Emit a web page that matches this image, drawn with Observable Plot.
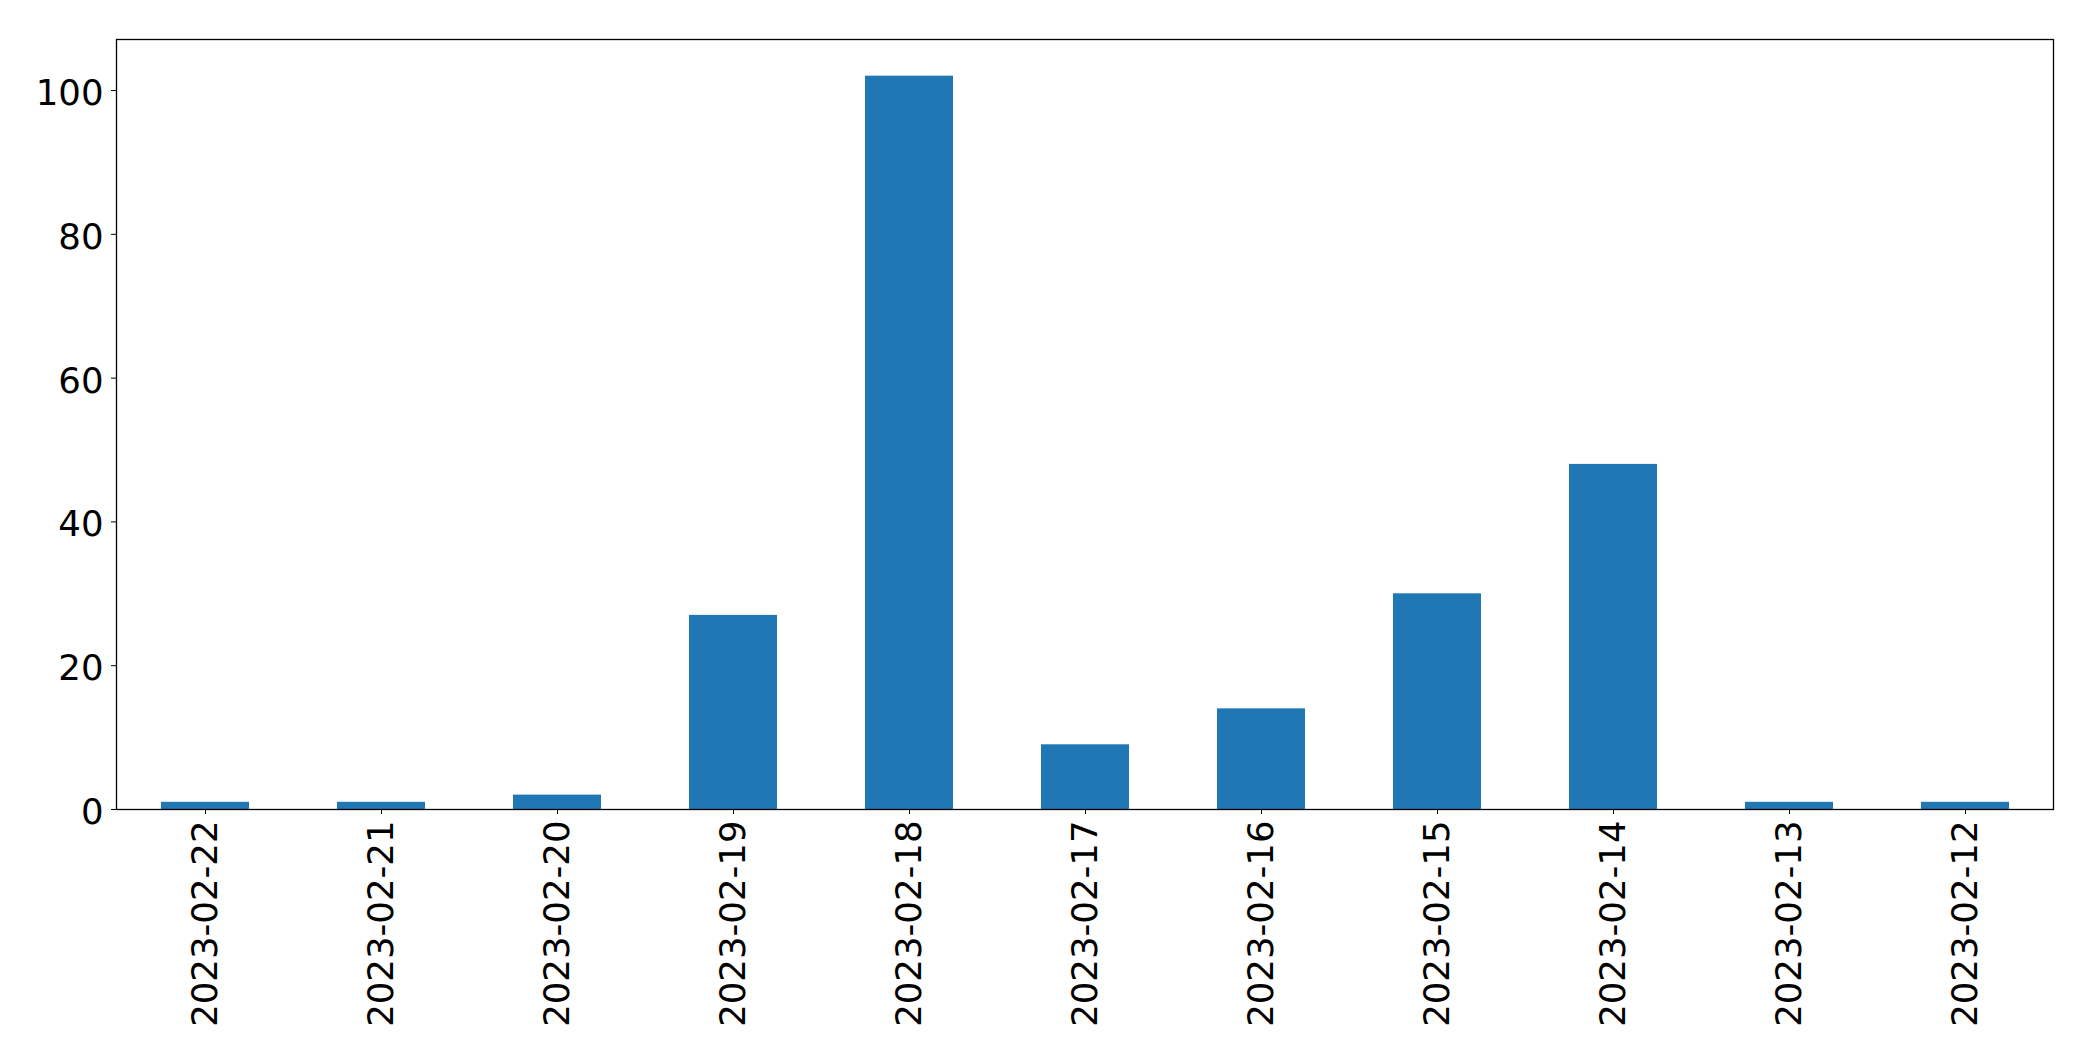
<!DOCTYPE html>
<html>
<head>
<meta charset="utf-8">
<script src="https://cdn.jsdelivr.net/npm/d3@7"></script>
<script src="https://cdn.jsdelivr.net/npm/@observablehq/plot@0.6"></script>
<style>
  html, body { margin: 0; padding: 0; background: #fff; }
  #chart svg { display: block; }
</style>
</head>
<body>
<div id="chart"></div>
<script>
const dates = ["2023-02-22","2023-02-21","2023-02-20","2023-02-19","2023-02-18","2023-02-17","2023-02-16","2023-02-15","2023-02-14","2023-02-13","2023-02-12"];
const counts = [1, 1, 2, 27, 102, 9, 14, 30, 48, 1, 1];
const yTicks = [0, 20, 40, 60, 80, 100];

const data = dates.map((d, i) => ({date: d, count: counts[i]}));

const chart = Plot.plot({
  width: 2093,
  height: 1061,
  marginLeft: 116,
  marginRight: 40,
  marginTop: 39,
  marginBottom: 252,
  style: {fontFamily: "'DejaVu Sans', sans-serif", fontSize: "35.5px", background: "#fff", color: "#000"},
  x: {type: "band", domain: dates, paddingInner: 0.5, paddingOuter: 0.25, label: null},
  y: {domain: [0, 107.1], label: null},
  marks: [
    Plot.barY(data, {x: "date", y: "count", fill: "#1f77b4"}),
    Plot.axisY({ticks: yTicks, tickSize: 5, text: null, label: null, stroke: "#000"}),
    Plot.axisY({ticks: yTicks, tickSize: 0, tickPadding: 13, dy: 3, fontSize: 35.5, label: null}),
    Plot.axisX({tickSize: 5, tickPadding: 6, tickRotate: -90, fontSize: 35.5, label: null, stroke: "#000"}),
    Plot.frame({stroke: "#000", strokeWidth: 1.3})
  ]
});
document.getElementById("chart").appendChild(chart);
</script>
</body>
</html>
